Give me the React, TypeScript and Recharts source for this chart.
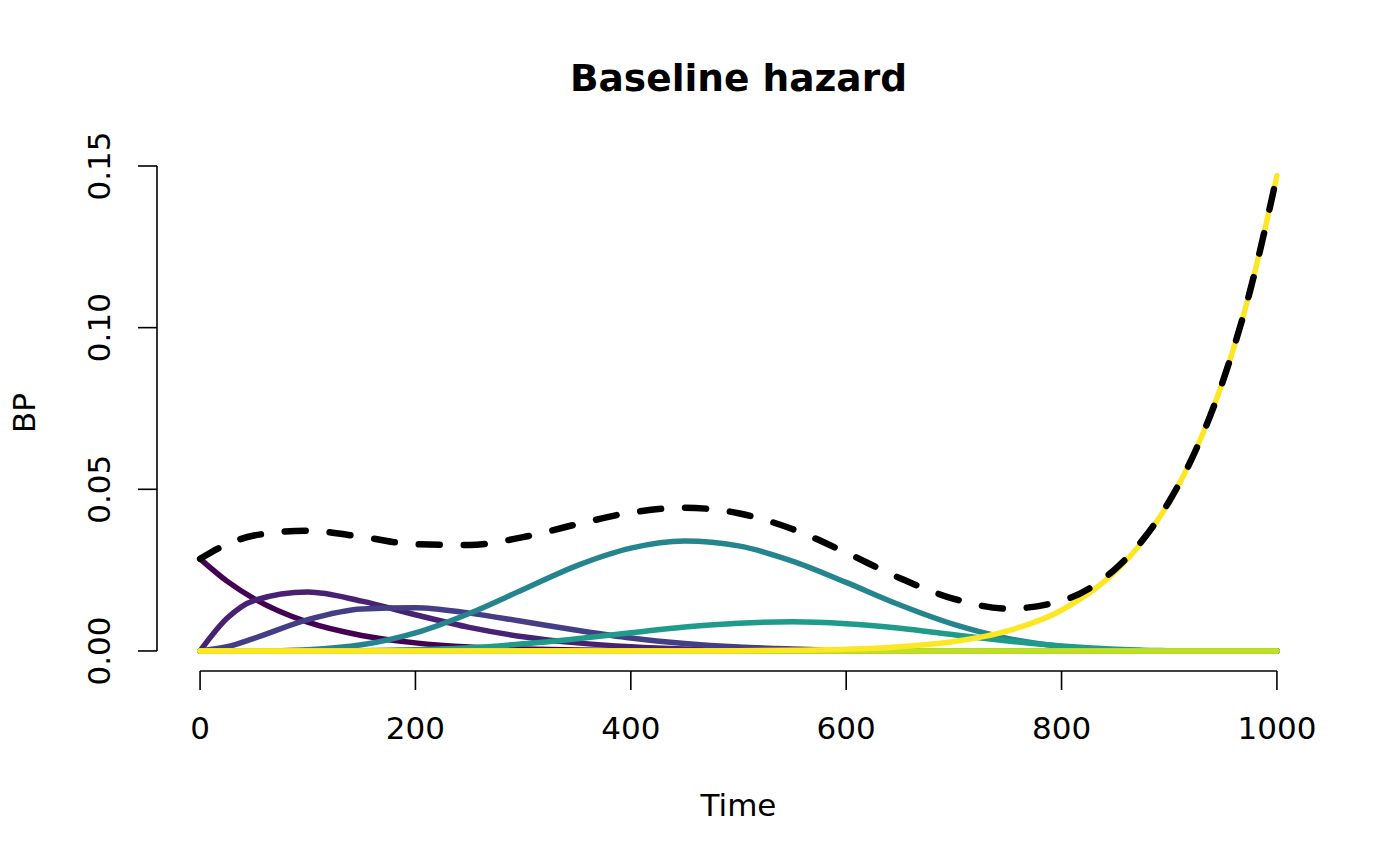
import { LineChart, Line, XAxis, YAxis, ReferenceLine } from "recharts";

// time grid (read at these points)
const TIME = [0, 25, 50, 100, 150, 200, 250, 300, 350, 400, 450, 500, 550, 600, 650, 700, 750, 800, 850, 875, 900, 925, 950, 975, 1000];

// basis curves
const B0 = [0.0285, 0.0216, 0.0162, 0.0089, 0.0048, 0.0025, 0.0012, 0.0006, 0.0003, 0.0001, 0, 0, 0, 0, 0, 0, 0, 0, 0, 0, 0, 0, 0, 0, 0];
const B1 = [0, 0.0101, 0.0156, 0.0182, 0.0154, 0.0112, 0.0073, 0.0044, 0.0025, 0.0013, 0.0006, 0.0003, 0.0001, 0, 0, 0, 0, 0, 0, 0, 0, 0, 0, 0, 0];
const B2 = [0, 0.0013, 0.0039, 0.0097, 0.013, 0.0134, 0.0117, 0.0091, 0.0064, 0.004, 0.0023, 0.0012, 0.0006, 0.0002, 0.0001, 0, 0, 0, 0, 0, 0, 0, 0, 0, 0];
const B5 = [0, 0, 0, 0.0004, 0.0019, 0.0056, 0.0116, 0.019, 0.0264, 0.0318, 0.034, 0.0325, 0.0278, 0.0212, 0.0142, 0.0082, 0.0039, 0.0014, 0.0003, 0.0001, 0, 0, 0, 0, 0];
const B6 = [0, 0, 0, 0, 0.0001, 0.0004, 0.001, 0.0022, 0.0038, 0.0056, 0.0074, 0.0086, 0.009, 0.0084, 0.007, 0.005, 0.0031, 0.0015, 0.0005, 0.0002, 0.0001, 0, 0, 0, 0];
const B11 = [0, 0, 0, 0, 0, 0, 0, 0, 0, 0, 0, 0.0001, 0.0002, 0.0005, 0.0013, 0.0029, 0.0062, 0.0126, 0.0246, 0.0338, 0.0461, 0.0624, 0.0836, 0.1113, 0.147];
// the other basis curves stay flat at zero
const FLAT = [0, 0, 0, 0, 0, 0, 0, 0, 0, 0, 0, 0, 0, 0, 0, 0, 0, 0, 0, 0, 0, 0, 0, 0, 0];
// dashed total
const TOTAL = [0.0285, 0.033, 0.0357, 0.0372, 0.0353, 0.033, 0.0328, 0.0352, 0.0392, 0.0428, 0.0443, 0.0426, 0.0377, 0.0304, 0.0225, 0.0161, 0.0131, 0.0155, 0.0254, 0.0342, 0.0463, 0.0624, 0.0836, 0.1113, 0.147];

const BASIS = [B0, B1, B2, FLAT, FLAT, B5, B6, FLAT, FLAT, FLAT, FLAT, B11];
const VIRIDIS = [
  "#440154", "#482173", "#433E85", "#38598C", "#2D708E", "#25858E",
  "#1E9B8A", "#2BB07F", "#51C56A", "#85D54A", "#C2DF23", "#FDE725",
];

const X_TICKS = [0, 200, 400, 600, 800, 1000];
const Y_TICKS = [0, 0.05, 0.1, 0.15];
const X_DOMAIN: [number, number] = [-40, 1040];
const Y_DOMAIN: [number, number] = [-0.0062, 0.1534];

const FONT = "'DejaVu Sans', sans-serif";
const FS = 31;

const data = TIME.map((t, i) => {
  const row: Record<string, number> = { time: t, total: TOTAL[i] };
  BASIS.forEach((b, k) => {
    row[`b${k}`] = b[i];
  });
  return row;
});

function XTick(props: any) {
  const { x, y, payload } = props;
  return (
    <g>
      <line x1={x} x2={x} y1={y} y2={y + 19} stroke="#000" strokeWidth={1.6} />
      <text x={x} y={y + 57} textAnchor="middle" dominantBaseline="central" fontSize={FS} fontFamily={FONT} fill="#000">
        {payload.value}
      </text>
    </g>
  );
}

function YTick(props: any) {
  const { x, y, payload } = props;
  return (
    <g>
      <line x1={x - 19} x2={x} y1={y} y2={y} stroke="#000" strokeWidth={1.6} />
      <text
        x={x - 58}
        y={y}
        textAnchor="middle"
        dominantBaseline="central"
        fontSize={FS}
        fontFamily={FONT}
        fill="#000"
        transform={`rotate(-90, ${x - 58}, ${y})`}
      >
        {Number(payload.value).toFixed(2)}
      </text>
    </g>
  );
}

export default function App() {
  return (
    <div style={{ position: "absolute", left: 0, top: 0, width: 1400, height: 866, background: "#fff" }}>
      <LineChart width={1400} height={866} data={data} margin={{ top: 155, right: 80, left: 0, bottom: 0 }}>
        <XAxis
          dataKey="time"
          type="number"
          domain={X_DOMAIN}
          ticks={X_TICKS}
          interval={0}
          height={195}
          axisLine={false}
          tickLine={false}
          tickSize={0}
          tickMargin={0}
          tick={<XTick />}
        />
        <YAxis
          type="number"
          domain={Y_DOMAIN}
          ticks={Y_TICKS}
          interval={0}
          width={157}
          axisLine={false}
          tickLine={false}
          tickSize={0}
          tickMargin={0}
          tick={<YTick />}
        />
        <ReferenceLine
          segment={[{ x: X_TICKS[0], y: Y_DOMAIN[0] }, { x: X_TICKS[X_TICKS.length - 1], y: Y_DOMAIN[0] }]}
          stroke="#000"
          strokeWidth={1.6}
          ifOverflow="visible"
        />
        <ReferenceLine
          segment={[{ x: X_DOMAIN[0], y: Y_TICKS[0] }, { x: X_DOMAIN[0], y: Y_TICKS[Y_TICKS.length - 1] }]}
          stroke="#000"
          strokeWidth={1.6}
          ifOverflow="visible"
        />
        {BASIS.map((_, k) => (
          <Line
            key={k}
            type="monotone"
            dataKey={`b${k}`}
            stroke={VIRIDIS[k]}
            strokeWidth={5.5}
            strokeLinecap="round"
            dot={false}
            activeDot={false}
            isAnimationActive={false}
          />
        ))}
        <Line
          type="monotone"
          dataKey="total"
          stroke="#000"
          strokeWidth={6.5}
          strokeDasharray="21 24"
          strokeLinecap="round"
          dot={false}
          activeDot={false}
          isAnimationActive={false}
        />
      </LineChart>
      <svg width={1400} height={866} style={{ position: "absolute", left: 0, top: 0, pointerEvents: "none" }}>
        <text x={738.5} y={78} textAnchor="middle" dominantBaseline="central" fontSize={37.5} fontWeight="bold" fontFamily={FONT}>
          Baseline hazard
        </text>
        <text x={738.5} y={805} textAnchor="middle" dominantBaseline="central" fontSize={FS} fontFamily={FONT}>
          Time
        </text>
        <text x={24} y={413} textAnchor="middle" dominantBaseline="central" fontSize={FS} fontFamily={FONT} transform="rotate(-90, 24, 413)">
          BP
        </text>
      </svg>
    </div>
  );
}
